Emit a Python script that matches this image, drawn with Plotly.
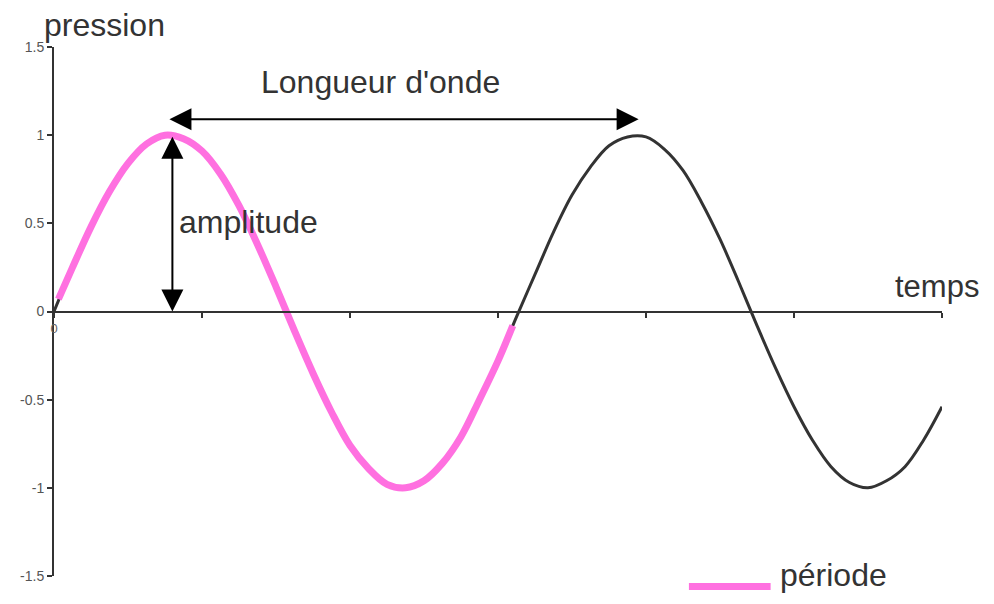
import plotly.graph_objects as go

# ---------------------------------------------------------------------------
# Data (x in axis units, 0..6)
# ---------------------------------------------------------------------------

wave_x = [0, 0.125, 0.25, 0.375, 0.5, 0.625, 0.75, 0.875, 1.0, 1.125, 1.25, 1.375,
          1.5, 1.625, 1.75, 1.875, 2.0, 2.125, 2.25, 2.375, 2.5, 2.625, 2.75, 2.875,
          3.0, 3.125, 3.25, 3.375, 3.5, 3.625, 3.75, 3.875, 4.0, 4.125, 4.25, 4.375,
          4.5, 4.625, 4.75, 4.875, 5.0, 5.125, 5.25, 5.375, 5.5, 5.625, 5.75, 5.875, 6.0]
wave_y = [0.0, 0.25, 0.48, 0.68, 0.84, 0.95, 1.0, 0.98, 0.91, 0.78, 0.6, 0.38,
          0.14, -0.11, -0.35, -0.57, -0.76, -0.89, -0.98, -1.0, -0.96, -0.86, -0.71, -0.5,
          -0.28, -0.03, 0.21, 0.45, 0.66, 0.82, 0.94, 0.99, 0.99, 0.92, 0.8, 0.62,
          0.41, 0.17, -0.08, -0.32, -0.54, -0.73, -0.88, -0.97, -1.0, -0.96, -0.88, -0.73, -0.54]

period_x = [0.03, 0.125, 0.25, 0.375, 0.5, 0.625, 0.75, 0.875, 1.0, 1.125, 1.25, 1.375,
            1.5, 1.625, 1.75, 1.875, 2.0, 2.125, 2.25, 2.375, 2.5, 2.625, 2.75, 2.875,
            3.0, 3.1]
period_y = [0.07, 0.25, 0.48, 0.68, 0.84, 0.95, 1.0, 0.98, 0.91, 0.78, 0.6, 0.38,
            0.14, -0.11, -0.35, -0.57, -0.76, -0.89, -0.98, -1.0, -0.96, -0.86, -0.71, -0.5,
            -0.28, -0.08]

y_ticks = [1.5, 1, 0.5, 0, -0.5, -1, -1.5]
y_tick_labels = ["1.5", "1", "0.5", "0", "-0.5", "-1", "-1.5"]
x_ticks = [0, 1, 2, 3, 4, 5, 6]
x_tick_labels = ["0", "", "", "", "", "", ""]

# peaks used for the annotation arrows
peak1_x, peak2_x = 0.77, 3.95
arrow_y = 1.09

# ---------------------------------------------------------------------------
# Settings
# ---------------------------------------------------------------------------

# page body has an 8px margin on every side; keep the figure inside the window
WIDTH, HEIGHT = 978, 588
FONT = "Liberation Sans, Arial, sans-serif"
TEXT_COL = "#333333"
PINK = "#ff70e0"
LABEL_SIZE = 32

fig = go.Figure()

fig.add_trace(go.Scatter(
    x=wave_x, y=wave_y,
    mode="lines",
    line=dict(color="#333333", width=3, shape="spline"),
    showlegend=False,
    hoverinfo="skip",
))

fig.add_trace(go.Scatter(
    x=period_x, y=period_y,
    mode="lines",
    line=dict(color=PINK, width=7, shape="spline"),
    name="période",
    showlegend=False,
))

# double-headed arrows
arrow_style = dict(
    xref="x", yref="y", axref="x", ayref="y",
    text="", showarrow=True,
    arrowhead=2, arrowsize=2.2, arrowwidth=2, arrowcolor="black",
    arrowside="end+start", startarrowhead=2, startarrowsize=2.2,
    standoff=0, startstandoff=0,
)
fig.add_annotation(x=peak2_x, y=arrow_y, ax=peak1_x, ay=arrow_y, **arrow_style)
fig.add_annotation(x=0.8, y=0, ax=0.8, ay=1.0, **arrow_style)

# text labels
def label(text, x, y, xanchor="left", size=LABEL_SIZE):
    fig.add_annotation(
        xref="paper", yref="paper", x=x, y=y,
        text=text, showarrow=False,
        xanchor=xanchor, yanchor="middle",
        font=dict(family=FONT, size=size, color=TEXT_COL),
    )

label("pression", -0.013, 1.041)
label("temps", 0.9445, 0.547, size=31)
label("Longueur d'onde", 0.3676, 0.933, xanchor="center")
label("amplitude", 0.139, 0.670)
label("période", 0.815, 0.002)

# legend swatch for the pink trace
fig.add_shape(
    type="line", xref="paper", yref="paper",
    x0=0.715, x1=0.807, y0=-0.020, y1=-0.020,
    line=dict(color=PINK, width=7),
)

fig.update_layout(
    width=WIDTH,
    height=HEIGHT,
    margin=dict(l=39, r=44, t=39, b=17),
    paper_bgcolor="white",
    plot_bgcolor="white",
    font=dict(family=FONT, color=TEXT_COL),
    xaxis=dict(
        range=[0, 6],
        anchor="free", position=0.5,
        showline=True, linecolor="#333333", linewidth=2,
        ticks="outside", ticklen=5, tickwidth=2, tickcolor="#333333",
        tickvals=x_ticks, ticktext=x_tick_labels,
        tickfont=dict(size=13, color="#666666"),
        showgrid=False, zeroline=False,
    ),
    yaxis=dict(
        range=[-1.5, 1.5],
        showline=True, linecolor="#333333", linewidth=2,
        ticks="outside", ticklen=5, tickwidth=2, tickcolor="#333333",
        tickvals=y_ticks, ticktext=y_tick_labels,
        tickfont=dict(size=14, color="#555555"),
        ticklabelstandoff=0,
        showgrid=False, zeroline=False,
    ),
)

fig.write_html("out.html")
